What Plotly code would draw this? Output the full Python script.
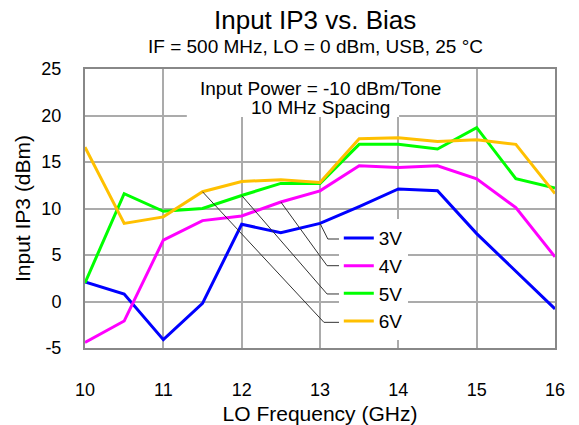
import plotly.graph_objects as go

freq = [10, 10.5, 11, 11.5, 12, 12.5, 13, 13.5, 14, 14.5, 15, 15.5, 16]
v3 = [2.1, 0.8, -4.1, -0.2, 8.3, 7.4, 8.4, 10.2, 12.1, 11.9, 7.3, 3.3, -0.8]
v4 = [-4.4, -2.1, 6.6, 8.7, 9.2, 10.7, 11.9, 14.6, 14.4, 14.6, 13.2, 10.1, 4.8]
v5 = [2.0, 11.6, 9.7, 10.0, 11.4, 12.7, 12.7, 16.9, 16.9, 16.4, 18.7, 13.2, 12.2]
v6 = [16.6, 8.4, 9.1, 11.8, 12.9, 13.1, 12.8, 17.5, 17.6, 17.2, 17.4, 16.9, 11.6]
names = ["3V", "4V", "5V", "6V"]
colors = ["#0000FF", "#FF00FF", "#00FF00", "#FFC000"]
series = [v3, v4, v5, v6]
x_ticks = [10, 11, 12, 13, 14, 15, 16]
y_ticks = [-5, 0, 5, 10, 15, 20, 25]
note_lines = ["Input Power = -10 dBm/Tone", "10 MHz Spacing"]

FONT = "Liberation Sans, Arial, sans-serif"

fig = go.Figure()
for i, (nm, col, ys) in enumerate(zip(names, colors, series)):
    fig.add_trace(go.Scatter(x=freq, y=ys, mode="lines", name=nm,
                             legendgroup=nm,
                             line=dict(color=col, width=3)))

# leader lines: start at a curve point, go to an elbow, then horizontal
leader_idx = [6, 5, 4, 3]
elbows = [(13.10, 6.72), (13.09, 3.85), (13.09, 0.81), (13.05, -2.24)]
x_end = 13.26
for ys, idx, (ex, ey) in zip(series, leader_idx, elbows):
    sx, sy = freq[idx], ys[idx]
    fig.add_shape(type="path", xref="x", yref="y",
                  path=f"M {sx} {sy} L {ex} {ey} L {x_end} {ey}",
                  line=dict(color="#333333", width=1), layer="above")

# white box behind the note text (hides gridlines)
fig.add_shape(type="rect", xref="x", yref="y", x0=11.30, x1=14.01, y0=19.84, y1=25,
              fillcolor="white", line=dict(width=0), layer="between")

for line_text, ypos in zip(note_lines, [22.92, 20.88]):
    fig.add_annotation(x=13.0, y=ypos, xref="x", yref="y", text=line_text,
                       showarrow=False, yanchor="middle",
                       font=dict(family=FONT, size=19, color="#000000"))

fig.add_annotation(x=0.49, y=1.176, xref="paper", yref="paper",
                   text="Input IP3 vs. Bias", showarrow=False,
                   yanchor="middle", font=dict(family=FONT, size=26, color="#000000"))
fig.add_annotation(x=0.49, y=1.082, xref="paper", yref="paper",
                   text="IF = 500 MHz, LO = 0 dBm, USB, 25 °C", showarrow=False,
                   yanchor="middle", font=dict(family=FONT, size=19, color="#000000"))

fig.update_layout(
    template="none",
    width=579, height=425,
    margin=dict(l=85, r=24, t=69, b=77, autoexpand=False),
    paper_bgcolor="white", plot_bgcolor="white",
    font=dict(family=FONT, size=18, color="#000000"),
    showlegend=True,
    legend=dict(x=0.54, y=0.462, xanchor="left", yanchor="top",
                bgcolor="white", borderwidth=0, tracegroupgap=4,
                itemwidth=30, font=dict(family=FONT, size=19),
                traceorder="normal"),
)
fig.update_xaxes(range=[10, 16], tickvals=x_ticks, ticktext=[str(t) for t in x_ticks],
                 automargin=False,
                 showgrid=True, gridcolor="#ABABAB", gridwidth=1.5,
                 showline=True, linecolor="#888888", linewidth=2, mirror=True,
                 zeroline=False, ticks="", ticklabelstandoff=24,
                 tickfont=dict(size=18),
                 title=dict(text="LO Frequency (GHz)", font=dict(size=21), standoff=11))
fig.update_yaxes(range=[-5, 25], tickvals=y_ticks, ticktext=[str(t) for t in y_ticks],
                 automargin=False,
                 showgrid=True, gridcolor="#ABABAB", gridwidth=1.5,
                 showline=True, linecolor="#888888", linewidth=2, mirror=True,
                 zeroline=False, ticks="", ticklabelstandoff=18,
                 tickfont=dict(size=18),
                 title=dict(text="Input IP3 (dBm)", font=dict(size=21), standoff=5))

fig.write_html("out.html", config={"displayModeBar": False},
               post_script="document.body.style.margin='0';document.body.style.overflow='hidden';")
